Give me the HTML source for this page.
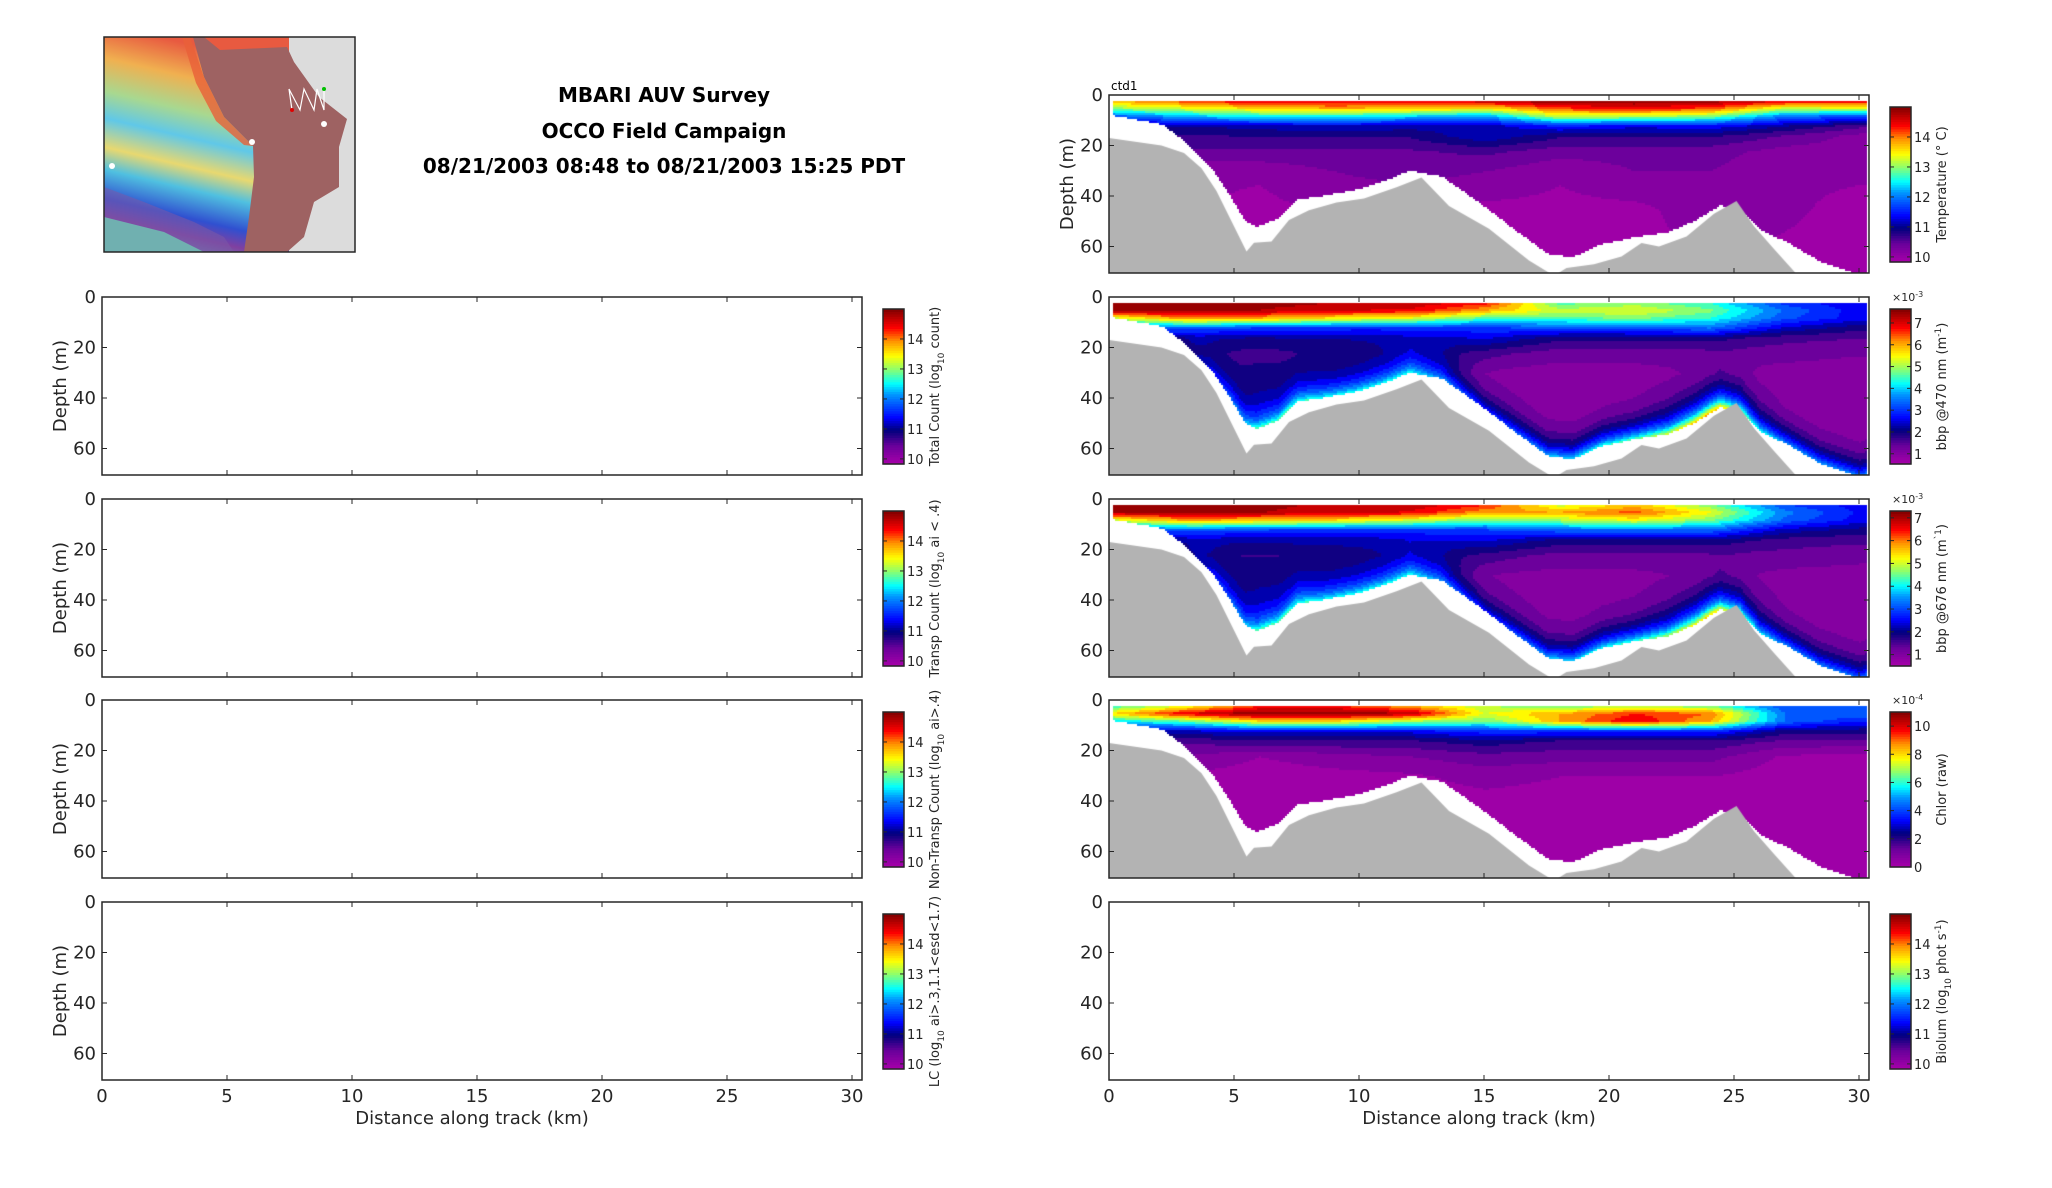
<!DOCTYPE html>
<html><head><meta charset="utf-8"><style>
html,body{margin:0;padding:0;background:#fff;width:2052px;height:1188px;overflow:hidden;position:relative;font-family:"DejaVu Sans","Liberation Sans",sans-serif}
canvas{position:absolute}
svg{position:absolute;left:0;top:0}
</style></head><body>
<div id="root"></div>
<script>
// ---------- data ----------
const gridKm = [0,3,6,9,12,15,18,21,24,27,30];
const gridZ = [2,5,8,12,16,22,30,45,70];
const tempGrid = [
 [13.8,14.2,14.6,14.6,14.5,14.7,15.0,15.0,14.9,14.6,14.5],
 [13.0,13.3,13.6,13.8,13.7,13.5,14.2,14.4,14.2,13.2,13.3],
 [11.8,12.3,12.6,12.6,12.4,12.2,13.3,13.2,13.0,12.0,11.8],
 [11.0,11.0,11.1,11.2,11.1,11.1,11.5,11.3,11.4,11.0,10.6],
 [10.8,10.7,10.8,10.8,10.8,11.2,10.8,10.8,10.8,10.5,10.2],
 [10.5,10.5,10.5,10.5,10.5,10.6,10.4,10.4,10.4,10.2,10.2],
 [10.3,10.1,10.1,10.3,10.4,10.3,10.1,10.3,10.3,10.1,10.1],
 [10.1,10.1,10.0,10.1,10.1,10.0,10.0,10.0,10.2,10.1,10.0],
 [10.0,10.0,10.0,10.0,10.0,10.0,10.0,10.0,10.0,10.0,10.0]];
const tempBoost = [0,0,0,0,0,0,0,0,0,0,0];
const bbp470Grid = [
 [7.6,7.6,7.5,7.3,7.2,6.8,4.6,4.9,4.4,3.0,2.5],
 [7.4,7.5,7.3,7.0,6.9,6.0,5.2,5.4,4.8,3.4,2.6],
 [5.2,6.2,6.0,5.6,5.3,4.6,4.6,4.8,4.4,3.2,2.6],
 [3.2,3.2,3.0,2.9,2.8,3.0,3.2,3.2,3.4,2.4,1.9],
 [2.1,2.1,2.1,2.1,2.1,2.5,1.9,1.9,1.9,1.6,1.5],
 [1.7,1.7,1.7,1.7,1.8,1.6,1.3,1.3,1.3,1.3,1.2],
 [1.5,1.5,1.9,1.6,1.6,1.0,1.0,1.0,1.1,1.0,1.0],
 [1.3,1.3,1.9,1.5,1.5,1.0,0.9,0.9,1.4,0.9,0.9],
 [1.1,1.1,1.6,1.3,1.3,0.9,0.9,0.9,1.2,0.9,0.9]];
const bbp470Boost = [0,0,2.8,2.8,2.8,1.8,3.2,3.8,4.8,2.8,2.8];
const bbp676Grid = [
 [7.2,7.2,7.1,6.9,6.9,6.4,5.0,5.6,4.6,3.0,2.5],
 [7.0,7.1,7.0,6.8,6.6,5.8,5.8,6.2,5.2,3.4,2.6],
 [5.0,5.8,5.6,5.4,5.0,4.5,4.8,5.2,4.6,3.2,2.5],
 [3.0,3.0,2.9,2.8,2.7,2.9,3.2,3.2,3.2,2.2,1.9],
 [2.1,2.1,2.1,2.1,2.1,2.4,1.9,1.9,1.9,1.6,1.5],
 [1.7,1.7,1.7,1.7,1.7,1.6,1.3,1.3,1.3,1.3,1.2],
 [1.5,1.5,1.9,1.6,1.6,1.0,1.0,1.0,1.1,1.0,1.0],
 [1.3,1.3,1.9,1.5,1.5,1.0,0.9,0.9,1.4,0.9,0.9],
 [1.1,1.1,1.6,1.3,1.3,0.9,0.9,0.9,1.2,0.9,0.9]];
const bbp676Boost = [0,0,2.6,2.6,2.6,1.6,3.0,3.4,4.2,2.5,2.5];
const chlGrid = [
 [6,7.5,9.5,9.5,8.5,7,6.5,7,6.5,4,4],
 [8,10,11,11,10.5,7.5,8.5,9.5,9,4.5,4.5],
 [5.5,6.5,8,8,7,6.5,8.5,10,8.5,4.5,3.5],
 [2.8,2.8,3.2,3.2,3.2,3.8,3.8,3.8,3.8,2.2,2.2],
 [1.6,1.6,1.9,1.9,1.9,2.3,1.9,1.9,1.9,1.4,1.3],
 [1.0,1.0,0.5,0.8,1.0,1.3,1.2,1.2,1.2,0.4,0.4],
 [0.4,0.4,0.2,0.3,0.4,0.7,0.5,0.5,0.5,0.2,0.2],
 [0.1,0.1,0.1,0.1,0.1,0.1,0.1,0.1,0.1,0.1,0.1],
 [0.1,0.1,0.1,0.1,0.1,0.1,0.1,0.1,0.1,0.1,0.1]];
const chlBoost = [0,0,0,0,0,0,0,0,0,0,0];
const bathyKm = [0,2.1,3,3.7,4.3,4.9,5.5,5.8,6.5,7.2,8,9.1,10.2,11.5,12.5,13.6,15.2,16.8,17.8,18.3,19.4,20.5,21.3,22,23.1,24.2,25.1,25.8,26.6,27.6,31];
const bathyDepth = [17,20,23,29,38,50,62,58.5,58,49.5,45.6,42.6,41,36.5,32.7,44,53,65.5,71.6,68.5,67,64,58.6,60,56,47,42,52,61,72,80];
const dataKm = [0,2.1,3,4.1,4.9,5.4,5.9,6.7,7.5,8.6,9.9,10.9,12,13.3,14.6,16.2,17.5,18.5,19.7,21,22.3,23.4,24.4,25.2,26,27.1,28.4,30,30.5];
const dataDepth = [7.5,11.3,18,29,41,49.5,51.8,48.6,41,39.5,37,34,29.6,32,41,53,62.5,64,58.6,56,54,49.5,43.4,45,53,58,65.5,71,69];
const depthTicks = [0,20,40,60];
const kmTicks = [0,5,10,15,20,25,30];
// ---------- layout ----------
const W=760, H=178, XMAX=30.4, ZMAX=70.5;
const rowTops=[95,297,499,700,902];
const LX=102, RX=1109;
const SX=W/XMAX, SZ=H/ZMAX;
const xs=k=>k*SX, zs=z=>z*SZ;
const NS="http://www.w3.org/2000/svg";
const svg=document.createElementNS(NS,"svg");
svg.setAttribute("width","2052");svg.setAttribute("height","1188");
function el(tag,attrs,parent,txt){const e=document.createElementNS(NS,tag);for(const k in attrs)e.setAttribute(k,attrs[k]);if(txt!==undefined)e.textContent=txt;(parent||svg).appendChild(e);return e;}
function interp(xa,ya,x){if(x<=xa[0])return ya[0];for(let i=1;i<xa.length;i++){if(x<=xa[i]){const t=(x-xa[i-1])/(xa[i]-xa[i-1]);return ya[i-1]+t*(ya[i]-ya[i-1]);}}return ya[ya.length-1];}
const stops=[[0,170,0,170],[0.12,105,0,155],[0.22,0,0,125],[0.3,0,0,255],[0.45,0,150,255],[0.52,0,255,255],[0.62,150,255,100],[0.7,255,255,0],[0.8,255,140,0],[0.88,255,0,0],[1,128,0,0]];
function cmap(t){t=Math.max(0,Math.min(1,t));for(let i=1;i<stops.length;i++){if(t<=stops[i][0]){const a=stops[i-1],b=stops[i];const u=(t-a[0])/(b[0]-a[0]);return `rgb(${Math.round(a[1]+u*(b[1]-a[1]))},${Math.round(a[2]+u*(b[2]-a[2]))},${Math.round(a[3]+u*(b[3]-a[3]))})`;}}return 'rgb(128,0,0)';}
function fieldVal(grid,boost,km,z,db){
  let j=0;while(j<gridZ.length-2&&z>gridZ[j+1])j++;
  const tz=Math.max(0,Math.min(1,(z-gridZ[j])/(gridZ[j+1]-gridZ[j])));
  const ra=grid[j].map((v,i)=>v+tz*(grid[j+1][i]-v));
  let v=interp(gridKm,ra,km);
  const b=interp(gridKm,boost,km);
  v+=b*Math.exp(-(db-z)/6);
  return v;
}
function drawField(x0,y0,grid,boost,vmin,vmax,name){
  const c=document.createElement('canvas');c.width=W;c.height=H;
  c.style.left=x0+'px';c.style.top=y0+'px';
  
  
  document.body.appendChild(c);
  const g=c.getContext('2d');const N=22;
  for(let px=0;px<W-3;px+=2){const km=px/SX;if(km<0.1)continue;
    const db=interp(dataKm,dataDepth,km);
    for(let py=0;py<H;py+=2){const z=py/SZ;if(z<2||z>db)continue;
      let v=fieldVal(grid,boost,km,z,db);
      let t=(v-vmin)/(vmax-vmin);let q=(Math.floor(t*N)+0.5)/N;
      g.fillStyle=cmap(q);g.fillRect(px,py,2,2);}}
  g.fillStyle='#b3b3b3';g.beginPath();g.moveTo(0,H);
  bathyKm.forEach((k,i)=>g.lineTo(xs(k),zs(bathyDepth[i])));
  g.lineTo(W,H);g.closePath();g.fill();
}
function axes(x0,y0,showY,showX,name){
  const gg=el('g',{});
  
  
  el('rect',{x:x0,y:y0,width:W,height:H,fill:'none',stroke:'#262626','stroke-width':1.5},gg);
  depthTicks.forEach(d=>{const y=y0+zs(d);
    el('line',{x1:x0,x2:x0+5,y1:y,y2:y,stroke:'#262626','stroke-width':1},gg);
    el('line',{x1:x0+W-5,x2:x0+W,y1:y,y2:y,stroke:'#262626','stroke-width':1},gg);
    const t=el('text',{x:x0-6,y:y+6,'text-anchor':'end','font-size':18,fill:'#262626'},gg,String(d));
    
    });
  kmTicks.forEach(k=>{const x=x0+xs(k);
    el('line',{x1:x,x2:x,y1:y0,y2:y0+5,stroke:'#262626'},gg);
    el('line',{x1:x,x2:x,y1:y0+H-5,y2:y0+H,stroke:'#262626'},gg);
    if(showX){const t=el('text',{x:x,y:y0+H+22,'text-anchor':'middle','font-size':18,fill:'#262626'},gg,String(k));
      
      }});
  if(showY){const t=el('text',{x:0,y:0,transform:`translate(${x0-36},${y0+H/2}) rotate(-90)`,'text-anchor':'middle','font-size':18,fill:'#262626'},gg,'Depth (m)');
    
    }
  if(showX){const t=el('text',{x:x0+W/2-10,y:y0+H+44,'text-anchor':'middle','font-size':18,fill:'#262626'},gg,'Distance along track (km)');
    
    }
}
function colorbar(axX,y0,vmin,vmax,ticks,labelParts,expo,name){
  const cx=axX+W+21,cy=y0+12,cw=21,ch=155;
  const gg=el('g',{});
  
  
  const N=64;
  for(let i=0;i<N;i++){el('rect',{x:cx,y:cy+ch-(i+1)*ch/N,width:cw,height:ch/N+0.6,fill:cmap((i+0.5)/N)},gg);}
  el('rect',{x:cx,y:cy,width:cw,height:ch,fill:'none',stroke:'#262626','stroke-width':1.5},gg);
  ticks.forEach(v=>{const y=cy+ch-(v-vmin)/(vmax-vmin)*ch;
    el('line',{x1:cx,x2:cx+4,y1:y,y2:y,stroke:'#262626'},gg);
    el('line',{x1:cx+cw-4,x2:cx+cw,y1:y,y2:y,stroke:'#262626'},gg);
    el('text',{x:cx+cw+3,y:y+5,'font-size':13,fill:'#262626'},gg,String(v));});
  if(expo){const t=el('text',{x:cx+2,y:cy-8,'font-size':11,fill:'#262626'},gg,'×10');
    el('tspan',{'baseline-shift':'super','font-size':8},t,expo);}
  const t=el('text',{transform:`translate(${cx+cw+35},${cy+ch/2}) rotate(-90)`,'text-anchor':'middle','font-size':13,fill:'#262626'},gg);
  labelParts.forEach(p=>{el('tspan',p[1]?{'baseline-shift':p[1],'font-size':9}:{},t,p[0]);});
  
  
}
drawField(RX,rowTops[0],tempGrid,tempBoost,9.83,15.0,'temperature-field');
drawField(RX,rowTops[1],bbp470Grid,bbp470Boost,0.53,7.64,'bbp470-field');
drawField(RX,rowTops[2],bbp676Grid,bbp676Boost,0.5,7.3,'bbp676-field');
drawField(RX,rowTops[3],chlGrid,chlBoost,0,11.0,'chlor-field');
document.body.appendChild(svg);
const logTicks=[10,11,12,13,14];
axes(RX,rowTops[0],true,false,'temperature-axes');
axes(RX,rowTops[1],false,false,'bbp470-axes');
axes(RX,rowTops[2],false,false,'bbp676-axes');
axes(RX,rowTops[3],false,false,'chlor-axes');
axes(RX,rowTops[4],false,true,'biolum-axes');
axes(LX,rowTops[1],true,false,'total-count-axes');
axes(LX,rowTops[2],true,false,'transp-count-axes');
axes(LX,rowTops[3],true,false,'nontransp-count-axes');
axes(LX,rowTops[4],true,true,'lc-axes');
colorbar(RX,rowTops[0],9.83,15,logTicks,[['Temperature (° C)']],null,'temperature-colorbar');
colorbar(RX,rowTops[1],0.53,7.64,[1,2,3,4,5,6,7],[['bbp @470 nm (m'],['-1','super'],[')']],'-3','bbp470-colorbar');
colorbar(RX,rowTops[2],0.5,7.3,[1,2,3,4,5,6,7],[['bbp @676 nm (m'],['`1','super'],[')']],'-3','bbp676-colorbar');
colorbar(RX,rowTops[3],0,11,[0,2,4,6,8,10],[['Chlor (raw)']],'-4','chlor-colorbar');
colorbar(RX,rowTops[4],9.83,15,logTicks,[['Biolum (log'],['10','sub'],[' phot s'],['-1','super'],[')']],null,'biolum-colorbar');
colorbar(LX,rowTops[1],9.83,15,logTicks,[['Total Count (log'],['10','sub'],[' count)']],null,'total-count-colorbar');
colorbar(LX,rowTops[2],9.83,15,logTicks,[['Transp Count (log'],['10','sub'],[' ai < .4)']],null,'transp-count-colorbar');
colorbar(LX,rowTops[3],9.83,15,logTicks,[['Non-Transp Count (log'],['10','sub'],[' ai>.4)']],null,'nontransp-count-colorbar');
colorbar(LX,rowTops[4],9.83,15,logTicks,[['LC (log'],['10','sub'],[' ai>.3,1.1<esd<1.7)']],null,'lc-colorbar');
const ctd=el('text',{x:RX+2,y:rowTops[0]-5,'font-size':12,fill:'#000'},svg,'ctd1');


const titles=['MBARI AUV Survey','OCCO Field Campaign','08/21/2003 08:48 to 08/21/2003 15:25 PDT'];
const tys=[102,138,173];
titles.forEach((s,i)=>{const t=el('text',{x:664,y:tys[i],'text-anchor':'middle','font-size':20,'font-weight':'bold',fill:'#000'},svg,s);
  
  });
// map inset
const mg=el('g',{transform:'translate(104,37)'});


const defs=el('defs',{},mg);
const lg=el('linearGradient',{id:'land',x1:'0.3',y1:'0',x2:'0.1',y2:'1'},defs);
[['0','#e85a40'],['0.15','#f0b050'],['0.3','#a8d890'],['0.42','#60c8e8'],['0.55','#e8d870'],['0.65','#50c0e0'],['0.78','#3050d0'],['0.86','#8040a0'],['1','#60b0b8']].forEach(s=>el('stop',{offset:s[0],'stop-color':s[1]},lg));
el('rect',{x:0,y:0,width:251,height:215,fill:'#dcdcdc'},mg);
el('rect',{x:0,y:0,width:185,height:215,fill:'url(#land)'},mg);
el('polygon',{points:'0,150 40,165 90,185 120,200 130,215 0,215',fill:'#7a5aa8',opacity:0.55},mg);
el('polygon',{points:'0,180 60,195 100,215 0,215',fill:'#70b0b0'},mg);
el('polygon',{points:'89,0 100,0 116,13 183,10 190,25 215,60 243,82 235,110 235,150 210,165 200,200 183,215 140,215 145,180 150,140 149,109 120,80 100,40',fill:'#9e6262'},mg);
el('polygon',{points:'86,0 100,40 120,80 149,109 140,108 112,84 92,46 78,0',fill:'#e86038',opacity:0.8},mg);
el('polyline',{points:'188,73 185,52 196,73 200,52 210,73 213,52 220,73 220,52',fill:'none',stroke:'#fff','stroke-width':1.2},mg);
el('circle',{cx:188,cy:73,r:2,fill:'#e00000'},mg);
el('circle',{cx:220,cy:52,r:2,fill:'#00c000'},mg);
el('circle',{cx:220,cy:87,r:3,fill:'#fff'},mg);
el('circle',{cx:148,cy:105,r:3,fill:'#fff'},mg);
el('circle',{cx:8,cy:129,r:3,fill:'#fff'},mg);
el('rect',{x:0,y:0,width:251,height:215,fill:'none',stroke:'#262626','stroke-width':1.5},mg);
</script>
</body></html>
